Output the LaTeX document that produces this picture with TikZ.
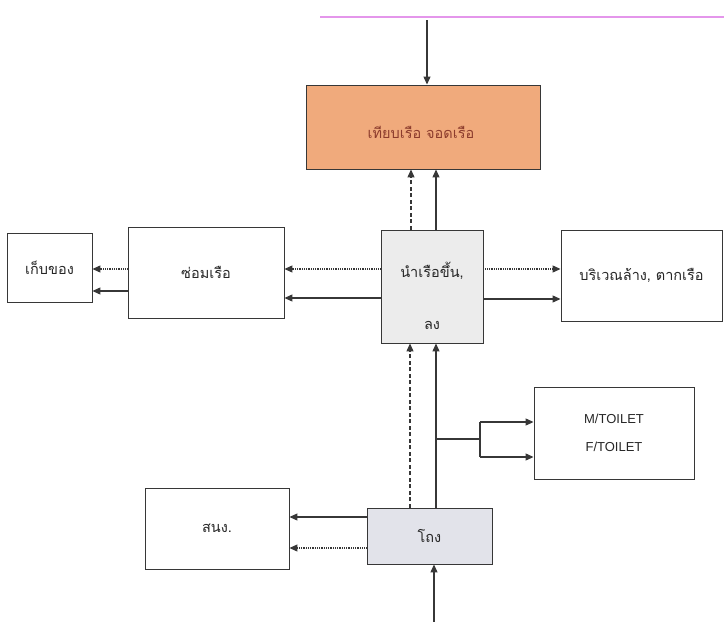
\documentclass[tikz,border=0pt]{standalone}
\usepackage{fontspec}
\setmainfont{Liberation Sans}
\newfontfamily\thaifont[Script=Thai]{Loma}
\usetikzlibrary{arrows.meta}
\definecolor{dockfill}{RGB}{240,170,124}
\definecolor{docktext}{RGB}{140,60,45}
\definecolor{launchfill}{RGB}{236,236,236}
\definecolor{hallfill}{RGB}{226,227,234}
\definecolor{edge}{RGB}{55,55,55}
\definecolor{pinkline}{RGB}{228,150,235}
\tikzset{
  thaitext/.style={font=\thaifont\fontsize{14.5}{16}\selectfont, text=black!85},
  box/.style={draw=edge, line width=0.9pt, inner sep=0pt, anchor=center, thaitext},
  flow/.style={draw=edge, line width=1.1pt,
    -{Triangle[length=8pt,width=7pt]}},
  dotflow/.style={flow, dash pattern=on 1pt off 0.8pt},
  dashflow/.style={flow, dash pattern=on 4pt off 2.5pt},
  link/.style={draw=edge, line width=1.1pt},
}
\begin{document}
\begin{tikzpicture}[x=1pt, y=-1pt]
\useasboundingbox (0,0) rectangle (724,622);

% faint guide line along the top
\draw[pinkline, line width=1.2pt] (320,17) -- (724,17);

% boxes
\node[box, fill=dockfill, minimum width=234pt, minimum height=84pt] (dock) at (423,127) {};
\node[thaitext, text=docktext, inner sep=0pt] (docklbl) at (421,132) {เทียบเรือ จอดเรือ};
\node[box, fill=launchfill, minimum width=102pt, minimum height=113pt] (launch) at (432,286.5) {};
\node[thaitext, align=center, inner sep=0pt] (launchlbl) at (432,296) {นำเรือขึ้น,\\[36pt]ลง};
\node[box, minimum width=156pt, minimum height=91pt] (repair) at (206,272.5) {ซ่อมเรือ};
\node[box, minimum width=85pt, minimum height=69pt] (store) at (49.5,267.5) {เก็บของ};
\node[box, minimum width=161pt, minimum height=91pt] (wash) at (641.5,275.5) {บริเวณล้าง, ตากเรือ};
\node[box, font=\fontsize{13}{15}\selectfont, align=center, minimum width=160pt, minimum height=92pt] (toilet) at (614,433) {M/TOILET\\[13pt]F/TOILET};
\node[box, fill=hallfill, minimum width=125pt, minimum height=56pt] (hall) at (429.5,536) {โถง};
\node[box, minimum width=144pt, minimum height=81pt] (office) at (217,528.5) {สนง.};

% free ends and branch points
\coordinate (topin) at (427,20);
\coordinate (botin) at (434,622);
\coordinate (tee) at (436,439);
\coordinate (fork) at (480,439);
\coordinate (forkup) at (480,422);
\coordinate (forkdn) at (480,457);

% incoming flows
\draw[flow] (topin) -- (topin |- dock.north);
\draw[flow] (botin) -- (botin |- hall.south);

% launch area up to the pier
\draw[dashflow] (411,0 |- launch.north) -- (411,0 |- dock.south);
\draw[flow] (436,0 |- launch.north) -- (436,0 |- dock.south);

% hall up to the launch area
\draw[dashflow] (410,0 |- hall.north) -- (410,0 |- launch.south);
\draw[flow] (436,0 |- hall.north) -- (436,0 |- launch.south);

% branch to the toilets
\draw[link] (tee) -- (fork);
\draw[link] (forkup) -- (forkdn);
\draw[flow] (forkup) -- (forkup -| toilet.west);
\draw[flow] (forkdn) -- (forkdn -| toilet.west);

% launch area to repair and washing
\draw[dotflow] (launch.west |- 0,269) -- (repair.east |- 0,269);
\draw[flow] (launch.west |- 0,298) -- (repair.east |- 0,298);
\draw[dotflow] (launch.east |- 0,269) -- (wash.west |- 0,269);
\draw[flow] (launch.east |- 0,299) -- (wash.west |- 0,299);

% repair to storage
\draw[dotflow] (repair.west |- 0,269) -- (store.east |- 0,269);
\draw[flow] (repair.west |- 0,291) -- (store.east |- 0,291);

% hall to office
\draw[flow] (hall.west |- 0,517) -- (office.east |- 0,517);
\draw[dotflow] (hall.west |- 0,548) -- (office.east |- 0,548);
\end{tikzpicture}
\end{document}
